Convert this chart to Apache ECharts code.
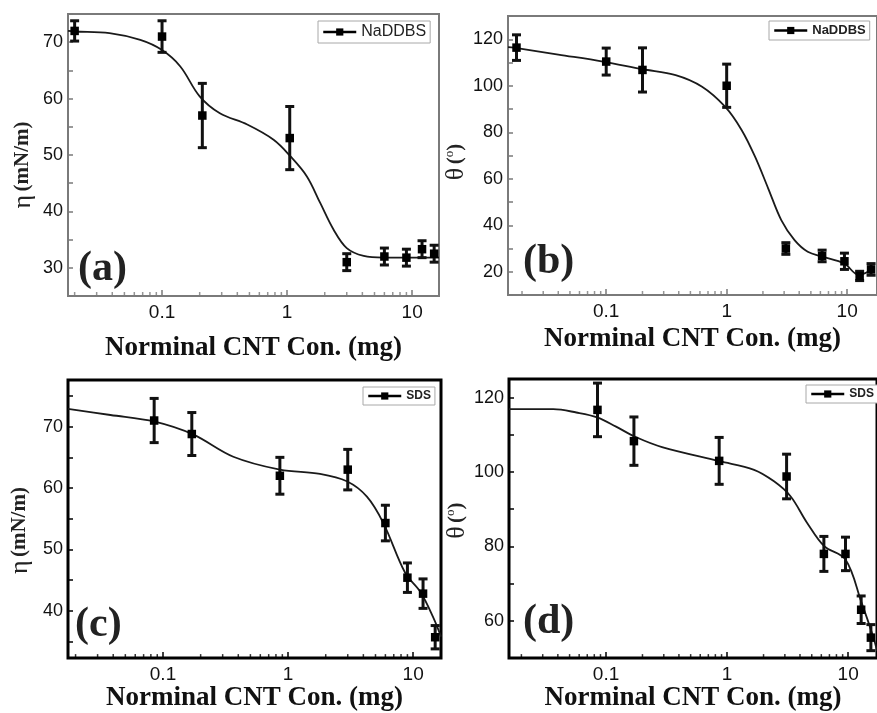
<!DOCTYPE html>
<html>
<head>
<meta charset="utf-8">
<script src="https://cdn.jsdelivr.net/npm/echarts@6/dist/echarts.min.js"></script>
<style>
  html, body { margin: 0; padding: 0; background: #fff; }
  #chart { width: 877px; height: 713px; }
</style>
</head>
<body>
<div id="chart"></div>
<script>
// (a) NaDDBS, surface tension
const concA = [0.02, 0.1, 0.21, 1.05, 3, 6, 9, 12, 15];
const etaA = [72, 71, 57, 53, 31, 32, 31.8, 33.3, 32.5];
const errA = [1.8, 2.8, 5.7, 5.6, 1.5, 1.5, 1.5, 1.5, 1.5];
const fitXA = [0.0177, 0.02, 0.038, 0.067, 0.1, 0.14, 0.2, 0.29, 0.48, 0.78, 1.06, 1.44, 1.84, 2.35, 3, 4.1, 5.9, 10, 16.4];
const fitYA = [72, 71.9, 71.6, 70.4, 68.6, 65.7, 60.4, 57.4, 55.4, 52.7, 49.8, 46.2, 41.5, 36.8, 33.5, 32.1, 31.8, 31.8, 31.8];

// (b) NaDDBS, contact angle
const concB = [0.018, 0.1, 0.2, 1.0, 3.1, 6.2, 9.5, 12.7, 15.8];
const thetaB = [116.4, 110.4, 106.8, 100, 30, 26.8, 24.5, 18.2, 21];
const errB = [5.5, 5.8, 9.5, 9.3, 2.5, 2.5, 3.5, 2, 2.5];
const fitXB = [0.0153, 0.0171, 0.04, 0.094, 0.2, 0.377, 0.625, 0.97, 1.33, 1.72, 2.21, 2.84, 3.66, 4.71, 6.26, 9.45, 12.5, 16.6];
const fitYB = [116.6, 116.4, 113.4, 110.4, 107.1, 104.6, 99.6, 91, 81, 69.5, 55.9, 42.2, 33.6, 28.6, 26.5, 23.6, 18.6, 21.5];

// (c) SDS, surface tension
const concC = [0.085, 0.17, 0.86, 3, 6, 9, 12, 15];
const etaC = [71, 68.8, 62, 63, 54.3, 45.4, 42.8, 35.7];
const errC = [3.6, 3.5, 3, 3.3, 2.9, 2.4, 2.4, 1.9];
const fitXC = [0.0174, 0.038, 0.086, 0.175, 0.365, 0.86, 1.8, 2.95, 4.27, 5.78, 8.63, 11.5, 14.5, 16.7];
const fitYC = [72.9, 71.9, 70.8, 68.7, 65.1, 63, 62.3, 61.1, 58.6, 54.3, 46.2, 43, 38.9, 35.8];

// (d) SDS, contact angle
const concD = [0.085, 0.17, 0.86, 3.1, 6.3, 9.5, 12.8, 15.4];
const thetaD = [116.7, 108.3, 103, 98.8, 78, 78, 63, 55.5];
const errD = [7.2, 6.5, 6.3, 6, 4.7, 4.5, 3.7, 3.5];
const fitXD = [0.0158, 0.0367, 0.0569, 0.0845, 0.121, 0.176, 0.29, 0.87, 1.67, 2.44, 3.34, 4.57, 6.34, 9.5, 12.9, 16, 17.3];
const fitYD = [116.9, 116.9, 116, 114.7, 112.2, 109.4, 106.7, 102.9, 100.6, 97.5, 93.5, 86.4, 80.1, 76.5, 64.9, 56, 52];

// minor log ticks along the bottom axis
const minorX = [0.02, 0.03, 0.04, 0.05, 0.06, 0.07, 0.08, 0.09,
                0.2, 0.3, 0.4, 0.5, 0.6, 0.7, 0.8, 0.9,
                2, 3, 4, 5, 6, 7, 8, 9];

const xTitle = 'Norminal CNT Con. (mg)';

const panels = [
  { key: 'a', name: 'NaDDBS', x: concA, y: etaA, e: errA, fx: fitXA, fy: fitYA,
    grid: { left: 68, top: 14, width: 371, height: 282 }, border: '#7a7a7a', bw: 2,
    xMin: 0.0177, xMax: 16.4, yMin: 25, yMax: 75, yInterval: 5, yLabel: v => v % 10 === 0,
    yName: '{g|η} {t|(mN/m)}', yGap: 32, yPad: 20, xGap: 39,
    legend: { left: 318, top: 21, fs: 16, fw: 'normal' }, tag: { left: 78, top: 248 } },
  { key: 'b', name: 'NaDDBS', x: concB, y: thetaB, e: errB, fx: fitXB, fy: fitYB,
    grid: { left: 508, top: 16, width: 372, height: 279 }, border: '#7a7a7a', bw: 2,
    xMin: 0.0153, xMax: 17.7, yMin: 10, yMax: 130, yInterval: 10, yLabel: v => v % 20 === 0,
    yName: '{g|θ} {t|(}{s|o}{t|)}', yGap: 35, yPad: 13, xGap: 31,
    legend: { left: 769, top: 21, fs: 13, fw: 'bold' }, tag: { left: 523, top: 241 } },
  { key: 'c', name: 'SDS', x: concC, y: etaC, e: errC, fx: fitXC, fy: fitYC,
    grid: { left: 68, top: 380, width: 373, height: 279 }, border: '#000', bw: 3,
    xMin: 0.0174, xMax: 16.7, yMin: 32.3, yMax: 77.6, yInterval: null, yLabel: v => v % 10 === 0,
    yName: '{g|η} {t|(mN/m)}', yGap: 35, yPad: 23, xGap: 25,
    legend: { left: 363, top: 387, fs: 12, fw: 'bold' }, tag: { left: 75, top: 604 } },
  { key: 'd', name: 'SDS', x: concD, y: thetaD, e: errD, fx: fitXD, fy: fitYD,
    grid: { left: 509, top: 379, width: 372, height: 280 }, border: '#000', bw: 3,
    xMin: 0.0158, xMax: 17.3, yMin: 50, yMax: 125, yInterval: 10, yLabel: v => v % 20 === 0,
    yName: '{g|θ} {t|(}{s|o}{t|)}', yGap: 36, yPad: 4, xGap: 26,
    legend: { left: 806, top: 385, fs: 12, fw: 'bold' }, tag: { left: 523, top: 601 } }
];

function errorBar(params, api) {
  const x = api.value(0), y = api.value(1), e = api.value(2);
  const hi = api.coord([x, y + e]);
  const lo = api.coord([x, y - e]);
  const cap = 4.5;
  const style = { stroke: '#111', lineWidth: 3 };
  return {
    type: 'group',
    children: [
      { type: 'line', shape: { x1: hi[0], y1: hi[1], x2: lo[0], y2: lo[1] }, style },
      { type: 'line', shape: { x1: hi[0] - cap, y1: hi[1], x2: hi[0] + cap, y2: hi[1] }, style },
      { type: 'line', shape: { x1: lo[0] - cap, y1: lo[1], x2: lo[0] + cap, y2: lo[1] }, style }
    ]
  };
}

const isDecade = v => {
  const l = Math.log10(v);
  return Math.abs(l - Math.round(l)) < 1e-6;
};

const grids = [], xAxes = [], yAxes = [], series = [], legends = [], graphics = [];

panels.forEach((p, i) => {
  grids.push(Object.assign({ show: true, borderColor: p.border, borderWidth: p.bw, backgroundColor: 'transparent' }, p.grid));

  xAxes.push({
    gridIndex: i, type: 'log', logBase: 10, min: p.xMin, max: p.xMax,
    axisLine: { show: false },
    axisTick: { inside: true, length: 6, lineStyle: { color: p.border, width: 1.5 } },
    splitLine: { show: false },
    axisLabel: {
      margin: 7, color: '#111', fontFamily: 'Liberation Sans', fontSize: 19,
      showMinLabel: false, showMaxLabel: false,
      formatter: v => isDecade(v) ? String(+(+v).toPrecision(3)) : ''
    },
    name: xTitle, nameLocation: 'middle', nameGap: p.xGap,
    nameTextStyle: { fontFamily: 'Liberation Serif', fontWeight: 'bold', fontSize: 27, color: '#111' }
  });

  const yAxis = {
    gridIndex: i, type: 'value', min: p.yMin, max: p.yMax,
    axisLine: { show: false },
    axisTick: { inside: true, length: 5, lineStyle: { color: p.border, width: 1.5 } },
    splitLine: { show: false },
    axisLabel: {
      margin: 5, color: '#111', fontFamily: 'Liberation Sans', fontSize: 18,
      formatter: v => (p.yLabel(v) ? String(v) : '')
    },
    name: p.yName, nameLocation: 'middle', nameGap: p.yGap,
    nameTextStyle: {
      padding: [0, p.yPad, 0, 0], color: '#222',
      rich: {
        g: { fontFamily: 'Liberation Serif', fontSize: 26, color: '#222' },
        t: { fontFamily: 'Liberation Serif', fontWeight: 'bold', fontSize: 21, color: '#222' },
        s: { fontFamily: 'Liberation Serif', fontSize: 13, color: '#222', verticalAlign: 'top' }
      }
    }
  };
  if (p.yInterval) yAxis.interval = p.yInterval; else yAxis.splitNumber = 9;
  yAxes.push(yAxis);

  // fitted curve
  series.push({
    type: 'line', name: 'fit-' + p.key, xAxisIndex: i, yAxisIndex: i,
    data: p.fx.map((x, k) => [x, p.fy[k]]),
    smooth: 0.35, showSymbol: false, silent: true, clip: true,
    lineStyle: { color: '#1a1a1a', width: 1.8 }, z: 2
  });
  // error bars
  series.push({
    type: 'custom', name: 'err-' + p.key, xAxisIndex: i, yAxisIndex: i,
    data: p.x.map((x, k) => [x, p.y[k], p.e[k]]),
    encode: { x: 0, y: 1 }, renderItem: errorBar, silent: true, z: 3
  });
  // data points (line kept invisible, shown only in legend)
  series.push({
    type: 'line', name: p.name, xAxisIndex: i, yAxisIndex: i,
    data: p.x.map((x, k) => [x, p.y[k]]),
    symbol: 'rect', symbolSize: 8.5, showSymbol: true,
    itemStyle: { color: '#000' },
    lineStyle: { color: '#000', width: 2.5, opacity: 0 }, z: 4
  });
  // minor ticks on the log axis
  series.push({
    type: 'scatter', name: 'minor-' + p.key, xAxisIndex: i, yAxisIndex: i,
    data: minorX.filter(x => x > p.xMin && x < p.xMax).map(x => [x, p.yMin]),
    symbol: 'rect', symbolSize: [1.5, 4], symbolOffset: [0, -2],
    itemStyle: { color: p.border }, silent: true, clip: false, z: 5
  });

  legends.push({
    data: [p.name], left: p.legend.left, top: p.legend.top,
    orient: 'horizontal', padding: [3, 4], itemGap: 0, itemWidth: 33, itemHeight: 9, itemTextGap: 5,
    borderColor: '#a8a8a8', borderWidth: 1, backgroundColor: '#fff',
    selectedMode: false,
    lineStyle: { color: '#000', width: 2.5, opacity: 1 },
    textStyle: { fontFamily: 'Liberation Sans', fontSize: p.legend.fs, fontWeight: p.legend.fw, color: '#222' }
  });

  graphics.push({
    type: 'text', left: p.tag.left, top: p.tag.top, z: 10,
    style: { text: '(' + p.key + ')', font: 'bold 42px "Liberation Serif"', fill: '#222' }
  });
});

const chart = echarts.init(document.getElementById('chart'), null, { renderer: 'canvas' });
chart.setOption({
  animation: false,
  backgroundColor: '#fff',
  grid: grids,
  xAxis: xAxes,
  yAxis: yAxes,
  legend: legends,
  graphic: graphics,
  series: series
});
</script>
</body>
</html>
